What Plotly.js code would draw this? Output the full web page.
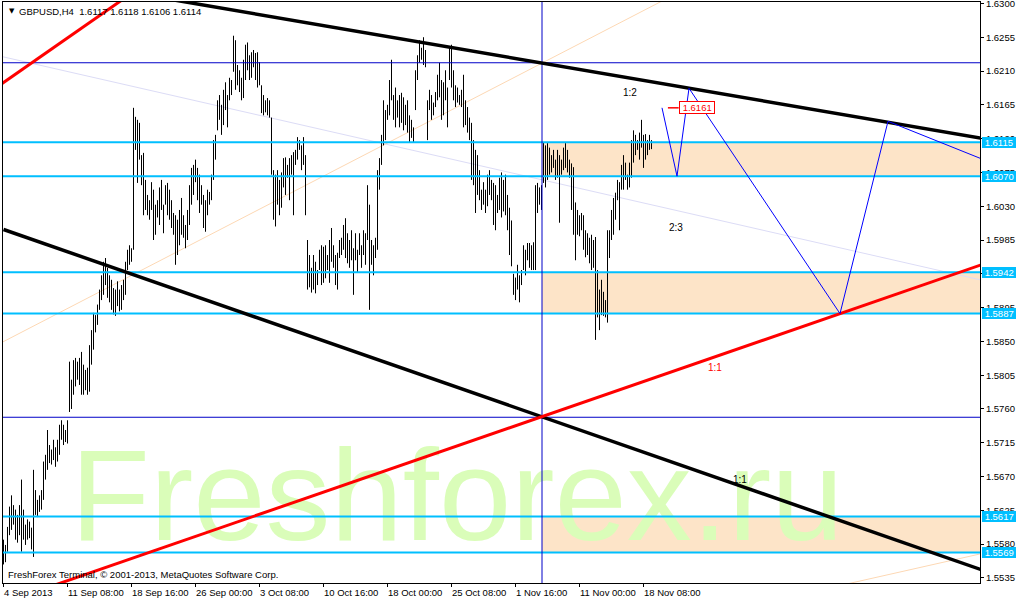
<!DOCTYPE html>
<html><head><meta charset="utf-8">
<script src="https://cdn.plot.ly/plotly-3.0.1.min.js"></script>
<style>html,body{margin:0;padding:0;background:#fff;}#chart{width:1020px;height:601px;}</style>
</head><body><div id="chart"></div>
<script>
// ---------- data ----------
const symbol = "GBPUSD,H4";
const lastQuote = [1.6117, 1.6118, 1.6106, 1.6114]; // O H L C of the last bar

const highs = [
1.5586,1.5579,1.5603,1.5630,1.5645,1.5632,1.5626,1.5619,1.5632,1.5666,
1.5626,1.5606,1.5613,1.5610,1.5602,1.5679,1.5652,1.5639,1.5645,1.5652,
1.5690,1.5699,1.5732,1.5712,1.5706,1.5719,1.5709,1.5719,1.5739,1.5745,
1.5739,1.5732,1.5745,1.5823,1.5799,1.5825,1.5828,1.5823,1.5828,1.5836,
1.5819,1.5812,1.5815,1.5845,1.5865,1.5888,1.5885,1.5899,1.5919,1.5938,
1.5956,1.5961,1.5948,1.5938,1.5932,1.5921,1.5919,1.5930,1.5919,1.5925,
1.5932,1.5956,1.5972,1.5978,1.5974,1.6161,1.6149,1.6145,1.6141,1.6098,
1.6101,1.6065,1.6045,1.6038,1.6062,1.6052,1.6032,1.6038,1.6055,1.6065,
1.6032,1.6058,1.6061,1.6052,1.6038,1.6021,1.6018,1.6012,1.6025,1.6041,
1.6018,1.6005,1.6025,1.6058,1.6081,1.6085,1.6092,1.6081,1.6072,1.6058,
1.6045,1.6038,1.6052,1.6049,1.6072,1.6118,1.6125,1.6171,1.6178,1.6165,
1.6185,1.6195,1.6178,1.6201,1.6198,1.6257,1.6251,1.6218,1.6211,1.6201,
1.6225,1.6245,1.6248,1.6231,1.6235,1.6238,1.6234,1.6235,1.6222,1.6191,
1.6178,1.6171,1.6174,1.6171,1.6148,1.6078,1.6072,1.6078,1.6065,1.6075,
1.6094,1.6095,1.6085,1.6094,1.6098,1.6102,1.6105,1.6122,1.6118,1.6111,
1.6122,1.6098,1.5985,1.5965,1.5948,1.5965,1.5956,1.5945,1.5972,1.5978,
1.5976,1.5978,1.5965,1.5985,1.6001,1.5978,1.5965,1.5968,1.5985,1.5988,
1.6005,1.6014,1.5994,1.5985,1.5998,1.5974,1.5994,1.5972,1.5994,1.5978,
1.5998,1.5994,1.6058,1.6032,1.5985,1.5978,1.5988,1.6078,1.6094,1.6125,
1.6171,1.6158,1.6165,1.6198,1.6225,1.6178,1.6188,1.6171,1.6178,1.6181,
1.6175,1.6165,1.6171,1.6151,1.6145,1.6135,1.6211,1.6231,1.6251,1.6241,
1.6255,1.6238,1.6171,1.6185,1.6178,1.6168,1.6182,1.6205,1.6221,1.6198,
1.6195,1.6211,1.6188,1.6241,1.6245,1.6211,1.6191,1.6188,1.6178,1.6185,
1.6205,1.6171,1.6162,1.6148,1.6141,1.6118,1.6105,1.6098,1.6078,1.6052,
1.6062,1.6052,1.6072,1.6078,1.6065,1.6061,1.6058,1.6045,1.6068,1.6075,
1.6065,1.6072,1.6045,1.6028,1.6011,1.5940,1.5935,1.5952,1.5938,1.5945,
1.5978,1.5972,1.5981,1.5981,1.5978,1.5982,1.6058,1.6061,1.6055,1.6058,
1.6115,1.6111,1.6114,1.6108,1.6098,1.6105,1.6092,1.6105,1.6098,1.6092,
1.6108,1.6114,1.6105,1.6092,1.6087,1.6082,1.6035,1.6025,1.6018,1.6021,
1.6018,1.5998,1.5994,1.5988,1.5992,1.5985,1.5989,1.5945,1.5919,1.5932,
1.5916,1.5905,1.5998,1.5998,1.6025,1.6041,1.6048,1.6065,1.6062,1.6085,
1.6098,1.6088,1.6072,1.6088,1.6118,1.6131,1.6125,1.6118,1.6128,1.6145,
1.6125,1.6126,1.6118,1.6125,1.6118];

const lows = [
1.5553,1.5556,1.5570,1.5592,1.5599,1.5606,1.5586,1.5582,1.5592,1.5570,
1.5586,1.5579,1.5586,1.5588,1.5573,1.5563,1.5619,1.5616,1.5623,1.5626,
1.5639,1.5666,1.5679,1.5688,1.5686,1.5692,1.5683,1.5690,1.5699,1.5719,
1.5712,1.5716,1.5714,1.5756,1.5760,1.5779,1.5790,1.5799,1.5792,1.5779,
1.5779,1.5785,1.5779,1.5783,1.5819,1.5839,1.5862,1.5872,1.5892,1.5905,
1.5912,1.5925,1.5908,1.5902,1.5892,1.5886,1.5884,1.5897,1.5890,1.5892,
1.5905,1.5912,1.5945,1.5952,1.5956,1.5972,1.6105,1.6061,1.6092,1.6058,
1.6018,1.6025,1.6018,1.6012,1.6025,1.5985,1.5992,1.6015,1.6005,1.6025,
1.5994,1.6032,1.6018,1.6012,1.6001,1.5992,1.5952,1.5965,1.5978,1.5992,
1.5988,1.5974,1.5985,1.6005,1.6032,1.6045,1.6062,1.6038,1.6021,1.6032,
1.6001,1.5996,1.6018,1.6032,1.6038,1.6065,1.6092,1.6131,1.6145,1.6125,
1.6138,1.6158,1.6135,1.6171,1.6178,1.6209,1.6185,1.6191,1.6182,1.6171,
1.6174,1.6198,1.6211,1.6198,1.6201,1.6215,1.6198,1.6188,1.6191,1.6154,
1.6151,1.6155,1.6151,1.6148,1.6072,1.6012,1.6003,1.6032,1.6018,1.6028,
1.6055,1.6045,1.6068,1.6038,1.6072,1.6018,1.6085,1.6092,1.6105,1.6078,
1.6085,1.6018,1.5919,1.5922,1.5915,1.5919,1.5914,1.5925,1.5945,1.5925,
1.5928,1.5934,1.5945,1.5928,1.5956,1.5948,1.5925,1.5919,1.5961,1.5965,
1.5972,1.5961,1.5954,1.5948,1.5958,1.5912,1.5958,1.5942,1.5965,1.5948,
1.5965,1.5952,1.5985,1.5892,1.5952,1.5938,1.5961,1.5972,1.6052,1.6085,
1.6111,1.6118,1.6145,1.6151,1.6171,1.6145,1.6135,1.6148,1.6135,1.6141,
1.6131,1.6138,1.6128,1.6115,1.6121,1.6115,1.6158,1.6198,1.6221,1.6225,
1.6218,1.6215,1.6118,1.6158,1.6145,1.6151,1.6162,1.6171,1.6175,1.6145,
1.6151,1.6171,1.6135,1.6198,1.6188,1.6171,1.6162,1.6168,1.6165,1.6162,
1.6135,1.6138,1.6128,1.6118,1.6065,1.6058,1.6021,1.6045,1.6038,1.6025,
1.6032,1.6021,1.6030,1.6045,1.6038,1.6005,1.5998,1.6021,1.6025,1.6015,
1.6023,1.6018,1.5998,1.5965,1.5950,1.5912,1.5905,1.5919,1.5902,1.5925,
1.5945,1.5938,1.5958,1.5948,1.5945,1.5945,1.5945,1.6021,1.6032,1.6025,
1.6061,1.6055,1.6065,1.6072,1.6075,1.6081,1.6065,1.6068,1.6008,1.6072,
1.6078,1.6081,1.6075,1.6068,1.6025,1.5992,1.5958,1.5992,1.5990,1.5998,
1.5972,1.5962,1.5965,1.5954,1.5945,1.5948,1.5852,1.5882,1.5865,1.5885,
1.5884,1.5882,1.5875,1.5961,1.5985,1.5992,1.6012,1.6038,1.5998,1.6052,
1.6052,1.6065,1.6052,1.6055,1.6068,1.6088,1.6098,1.6105,1.6092,1.6108,
1.6081,1.6092,1.6098,1.6105,1.6106];

const xTickIdx  = [0,32,64,96,128,160,192,224,256,288,320];
const xTickText = ["4 Sep 2013","11 Sep 08:00","18 Sep 16:00","26 Sep 00:00","3 Oct 08:00",
                   "10 Oct 16:00","18 Oct 00:00","25 Oct 08:00","1 Nov 16:00","11 Nov 00:00","18 Nov 08:00"];
const yTickVals = [1.5535,1.5580,1.5625,1.5670,1.5715,1.5760,1.5805,1.5850,1.5895,
                   1.5940,1.5985,1.6030,1.6075,1.6120,1.6165,1.6210,1.6255,1.6300];

const levels = [1.6115, 1.6070, 1.5942, 1.5887, 1.5617, 1.5569];     // cyan horizontal levels
const zoneLo = [1.6070, 1.5887, 1.5569];
const zoneHi = [1.6115, 1.5942, 1.5617];
const crossIdx = 269.25;                                              // vertical marker bar
const crossLevels = [1.6221, 1.5749];                                 // thin blue horizontals

// trend lines: [bar index], [price]
const upperBlackIdx = [-10, 490],  upperBlackPx = [1.6348, 1.6120];
const lowerBlackIdx = [0, 490],    lowerBlackPx = [1.5999, 1.5545];
const redMainIdx    = [25, 490],   redMainPx    = [1.5525, 1.5953];
const redTopIdx     = [-2, 60],    redTopPx     = [1.6191, 1.6306];
const lavenderIdx   = [-2, 490],   lavenderPx   = [1.6230, 1.5931];
const peachIdx      = [-2, 340],   peachPx      = [1.5847, 1.6318];
const peach2Idx     = [420, 490],  peach2Px     = [1.5526, 1.5568];
const zigIdx = [329.25, 336.75, 342.75, 418.25, 442.25, 490];
const zigPx  = [1.6161, 1.6070, 1.6187, 1.5887, 1.6143, 1.6092];
const priceLabel = 1.6161, priceLabelIdx = [332.2, 337.6];

const noteText  = ["1:2", "2:3", "1:1", "1:1"];
const noteIdx   = [313.25, 336.25, 355.75, 368.25];
const notePx    = [1.6181, 1.6001, 1.5815, 1.5666];
const noteColor = ["#000000", "#000000", "#ff0000", "#000000"];

const watermark = "Freshforex.ru", wmIdx = 226.75, wmPx = 1.5629;

// ---------- build ----------
const FONT = "Liberation Sans, Arial, sans-serif";
const X0 = -0.25, X1 = 488.25;
const barX = [], barY = [];
for (let i = 0; i < highs.length; i++) { barX.push(i, i, null); barY.push(lows[i], highs[i], null); }

function line(x, y, color, width) {
  return {type: 'scatter', mode: 'lines', x: x, y: y, line: {color: color, width: width}, hoverinfo: 'skip', showlegend: false};
}

const traces = [];
traces.push({type: 'scatter', mode: 'text', x: [wmIdx], y: [wmPx], text: [watermark],
  textposition: 'middle center', textfont: {family: FONT, size: 130, color: 'rgb(218,253,185)'},
  hoverinfo: 'skip', showlegend: false});
traces.push(line(lavenderIdx, lavenderPx, '#dcdcf6', 1));
traces.push(line(peachIdx, peachPx, '#fdd8b4', 1));
traces.push(line(peach2Idx, peach2Px, '#fdd8b4', 1));
traces.push({type: 'scatter', mode: 'lines', x: barX, y: barY, line: {color: '#000', width: 1},
  connectgaps: false, hoverinfo: 'skip', showlegend: false});
levels.forEach(v => traces.push(line([X0 - 5, X1 + 5], [v, v], '#00bfff', 2)));
crossLevels.forEach(v => traces.push(line([X0 - 5, X1 + 5], [v, v], '#0000c8', 1)));
traces.push(line([crossIdx, crossIdx], [1.50, 1.70], '#0000c8', 1));
traces.push(line(upperBlackIdx, upperBlackPx, '#000', 3.5));
traces.push(line(lowerBlackIdx, lowerBlackPx, '#000', 3.5));
traces.push(line(redMainIdx, redMainPx, '#ff0000', 3));
traces.push(line(redTopIdx, redTopPx, '#ff0000', 3));
traces.push(line(zigIdx, zigPx, '#0000ff', 1));
traces.push(line(priceLabelIdx, [priceLabel, priceLabel], '#ff0000', 1.5));

const shapes = zoneLo.map((lo, k) => ({type: 'rect', xref: 'x', yref: 'y', layer: 'below',
  x0: crossIdx, x1: X1 + 5, y0: lo, y1: zoneHi[k], fillcolor: '#fde4c8', line: {width: 0}}));

const ann = [];
xTickIdx.forEach((v, k) => ann.push({x: v, xref: 'x', y: 0, yref: 'paper', yanchor: 'middle', yshift: -9,
  xanchor: 'left', xshift: -2, text: xTickText[k], showarrow: false, font: {family: FONT, size: 9.5, color: '#000'}}));
levels.forEach(v => ann.push({x: 1, xref: 'paper', xanchor: 'left', xshift: 2, y: v, yref: 'y', yanchor: 'middle',
  text: '\u00a0' + v.toFixed(4) + '\u00a0', showarrow: false, bgcolor: '#00bfff', borderpad: 0, borderwidth: 0,
  font: {family: FONT, size: 9.5, color: '#fff'}}));
ann.push({x: priceLabelIdx[1], xref: 'x', xanchor: 'left', y: priceLabel, yref: 'y', yanchor: 'middle',
  text: '\u00a0' + priceLabel.toFixed(4) + '\u00a0', showarrow: false, bgcolor: '#fff', bordercolor: '#ff0000',
  borderwidth: 1, borderpad: 0, font: {family: FONT, size: 9.5, color: '#ff0000'}});
noteText.forEach((t, k) => ann.push({x: noteIdx[k], xref: 'x', y: notePx[k], yref: 'y', text: t, showarrow: false,
  font: {family: FONT, size: 10, color: noteColor[k]}}));
ann.push({x: 0.0045, xref: 'paper', xanchor: 'left', y: 0.9845, yref: 'paper', yanchor: 'middle', text: '\u25BC',
  showarrow: false, font: {family: 'DejaVu Sans, sans-serif', size: 7, color: '#000'}});
ann.push({x: 0.0145, xref: 'paper', xanchor: 'left', y: 0.9845, yref: 'paper', yanchor: 'middle',
  text: symbol + '\u00a0\u00a0' + lastQuote.map(v => v.toFixed(4)).join('\u00a0'),
  showarrow: false, font: {family: FONT, size: 9.5, color: '#000'}});
ann.push({x: 0.003, xref: 'paper', xanchor: 'left', y: 0.0138, yref: 'paper', yanchor: 'middle',
  text: 'FreshForex Terminal, \u00a9 2001-2013, MetaQuotes Software Corp.',
  showarrow: false, font: {family: FONT, size: 9.5, color: '#000'}});

const layout = {
  width: 1020, height: 601,
  margin: {l: 3, r: 40, t: 2, b: 18, pad: 0},
  paper_bgcolor: '#fff', plot_bgcolor: '#fff',
  showlegend: false, hovermode: false,
  xaxis: {range: [X0, X1], showgrid: false, zeroline: false, showline: true, mirror: true,
    linecolor: '#000', linewidth: 1, ticks: 'outside', ticklen: 3, tickcolor: '#000',
    tickmode: 'array', tickvals: xTickIdx, showticklabels: false, fixedrange: true},
  yaxis: {range: [1.55283, 1.63019], side: 'right', showgrid: false, zeroline: false, showline: true, mirror: true,
    linecolor: '#000', linewidth: 1, ticks: 'outside', ticklen: 3, tickcolor: '#000',
    tickmode: 'array', tickvals: yTickVals, ticktext: yTickVals.map(v => v.toFixed(4)),
    ticklabeloverflow: 'allow',
    tickfont: {family: FONT, size: 9.5, color: '#000'}, fixedrange: true},
  shapes: shapes,
  annotations: ann
};

Plotly.newPlot('chart', traces, layout, {displayModeBar: false, staticPlot: true});
</script>
</body></html>
